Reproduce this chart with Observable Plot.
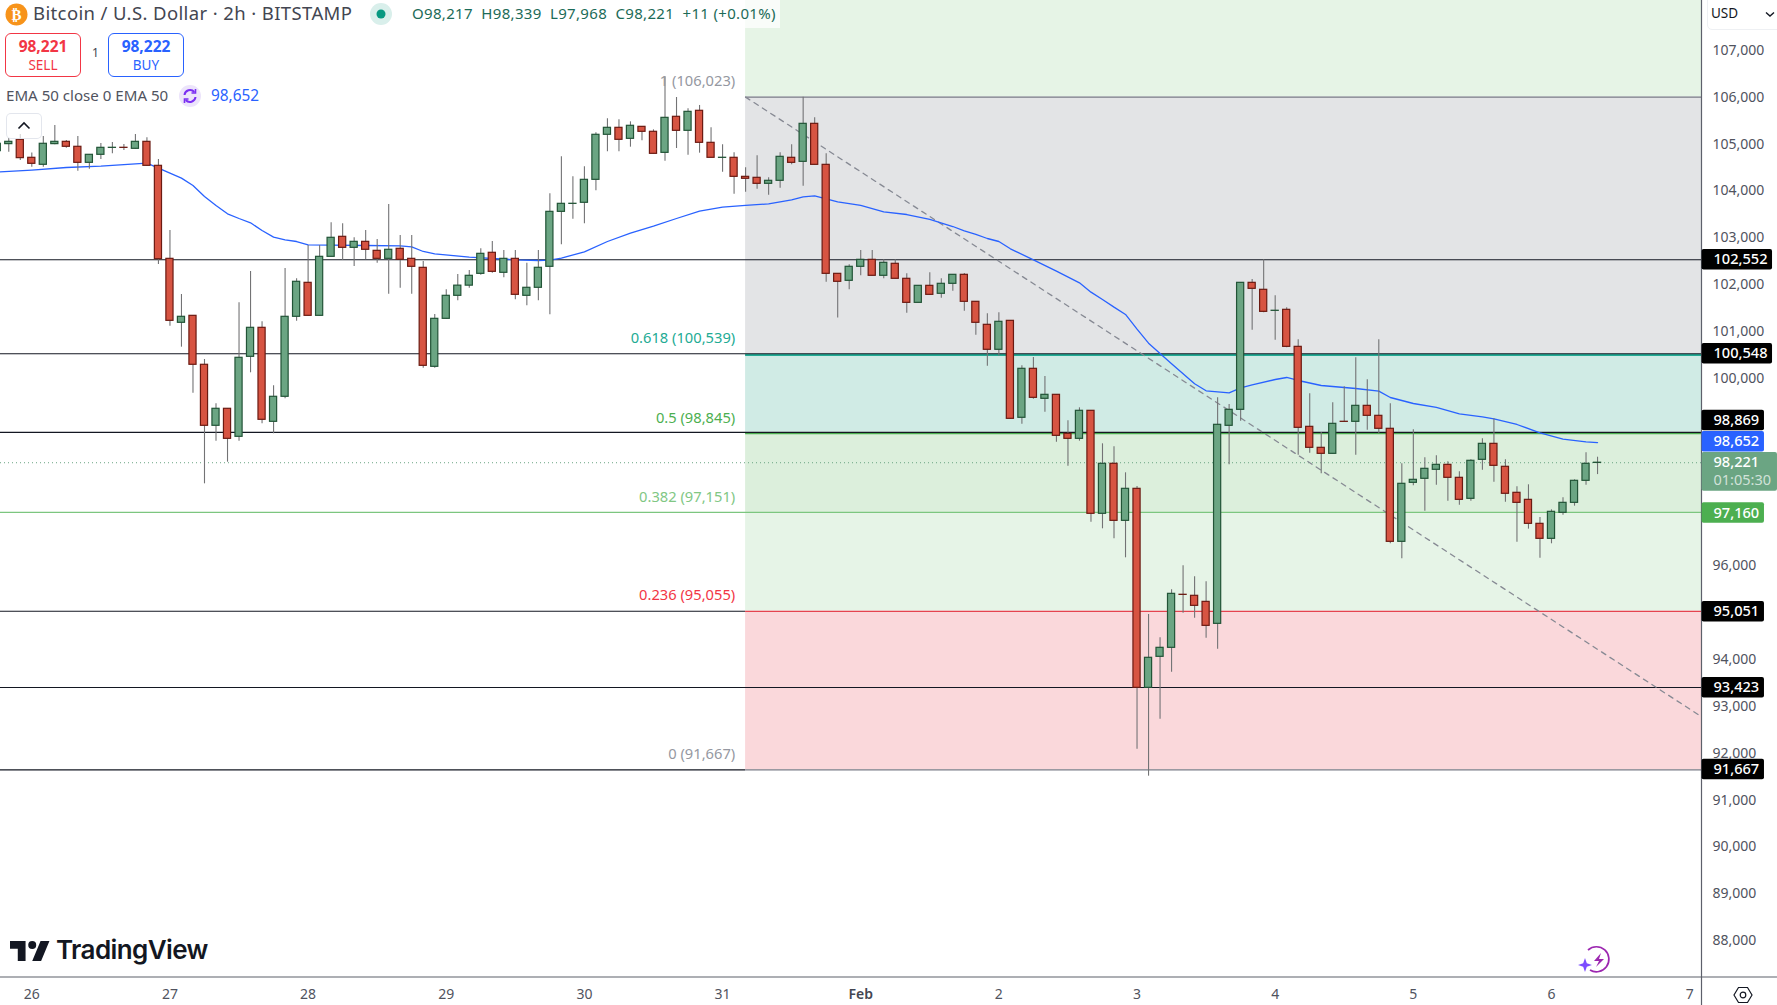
<!DOCTYPE html>
<html><head><meta charset="utf-8">
<script src="https://cdn.jsdelivr.net/npm/d3@7"></script>
<script src="https://cdn.jsdelivr.net/npm/@observablehq/plot@0.6"></script>
<style>
html,body{margin:0;padding:0;background:#fff;overflow:hidden}
#wrap{position:relative;width:1777px;height:1005px;font-family:"Noto Sans",sans-serif;color:#50535e}
#chart svg{display:block}
.o{position:absolute;white-space:nowrap;line-height:1}
</style></head><body>
<div id="wrap"><div id="chart"></div>
<div class="o" style="left:0;top:0;width:780px;height:28px;background:rgba(255,255,255,.75)"></div>
<svg class="o" style="left:5px;top:3px" width="23" height="23" viewBox="0 0 23 23"><circle cx="11.5" cy="11.5" r="11" fill="#f7931a"/><text x="11.5" y="17" text-anchor="middle" font-size="15" font-weight="700" fill="#fff" font-family="DejaVu Sans">₿</text></svg>
<div class="o" style="left:33px;top:4px;font-size:18.5px;letter-spacing:.38px;color:#434651">Bitcoin / U.S. Dollar · 2h · BITSTAMP</div>
<svg class="o" style="left:370px;top:3px" width="22" height="22"><circle cx="11" cy="11" r="11" fill="#d9efeb"/><circle cx="11" cy="11" r="4.5" fill="#089981"/></svg>
<div class="o" style="left:412px;top:6px;font-size:15px;letter-spacing:.32px;color:#1c6b58">O98,217&nbsp; H98,339&nbsp; L97,968&nbsp; C98,221&nbsp; +11 (+0.01%)</div>
<div class="o" style="left:5px;top:33px;width:74px;height:42px;border:1px solid #f23645;border-radius:6px;background:#fff;color:#f23645;text-align:center">
  <div style="font-size:15.5px;font-weight:700;margin-top:5px">98,221</div><div style="font-size:13.5px;margin-top:4px">SELL</div></div>
<div class="o" style="left:92px;top:47px;font-size:12px;color:#434651">1</div>
<div class="o" style="left:108px;top:33px;width:74px;height:42px;border:1px solid #2962ff;border-radius:6px;background:#fff;color:#2962ff;text-align:center">
  <div style="font-size:15.5px;font-weight:700;margin-top:5px">98,222</div><div style="font-size:13.5px;margin-top:4px">BUY</div></div>
<div class="o" style="left:6px;top:88px;font-size:15.1px;color:#50535e">EMA 50 close 0 EMA 50</div>
<svg class="o" style="left:179px;top:85px" width="22" height="22" viewBox="0 0 22 22"><circle cx="11" cy="11" r="11" fill="#ece4fb"/><path d="M5.5 10a5.6 5.6 0 0 1 9.8-3M16.500 12a5.600 5.600 0 0 1-9.800 3" fill="none" stroke="#7b2ff2" stroke-width="2"/><path d="M16.500 4v4h-4M5.500 18v-4h4" fill="none" stroke="#7b2ff2" stroke-width="1.600"/></svg>
<div class="o" style="left:211px;top:88px;font-size:15.4px;color:#2962ff">98,652</div>
<div class="o" style="left:6px;top:113px;width:34px;height:24px;border:1px solid rgba(224,227,235,.9);border-radius:5px;background:rgba(255,255,255,.7)">
<svg style="position:absolute;left:10px;top:7px" width="14" height="9"><path d="M1.500 7.500L7 2l5.500 5.500" fill="none" stroke="#131722" stroke-width="1.600"/></svg></div>
<svg class="o" style="left:10px;top:941px" width="40" height="20" viewBox="0 0 36 18"><path d="M14 18H7V7H0V0h14zM28 18h-8L27.500 0h8z" fill="#131722"/><circle cx="20" cy="3.600" r="3.600" fill="#131722"/></svg>
<div class="o" style="left:56px;top:937px;font-size:26px;font-weight:600;letter-spacing:-.6px;color:#131722;font-family:Inter,sans-serif">TradingView</div>
<svg class="o" style="left:1577px;top:944px" width="36" height="32" viewBox="0 0 36 32"><path d="M11 6A12.500 12.500 0 1 1 13 26" fill="none" stroke="#9c27b0" stroke-width="1.700"/><path d="M24 9l-7 8h5l-3 6 8-8h-5z" fill="#9c27b0"/><path d="M8 14l1.800 5.200L15 21l-5.200 1.800L8 28l-1.800-5.200L1 21l5.200-1.800z" fill="#7c4dff"/></svg>
<svg class="o" style="left:1733px;top:985px" width="20" height="20" viewBox="0 0 20 20"><path d="M5.500 2.500h9L19 10l-4.500 7.500h-9L1 10z" fill="none" stroke="#131722" stroke-width="1.200"/><circle cx="10" cy="10" r="2.800" fill="none" stroke="#131722" stroke-width="1.200"/></svg>
<div class="o" style="left:1707px;top:-1px;width:70px;height:29px;border:1px solid #eef0f3;border-radius:0 0 0 5px;background:#fff">
 <span style="position:absolute;left:3px;top:7px;font-size:13.5px;color:#131722">USD</span>
 <svg style="position:absolute;left:57px;top:11px" width="10" height="7"><path d="M1 1.500l4 3.500 4-3.500" fill="none" stroke="#131722" stroke-width="1.400"/></svg></div>
</div>
<script>
const firstIndex = -3;
const opens = [104870,105020,105112,104728,104579,105020,105069,104963,104621,104792,104940,104942,104920,105069,104557,102572,101207,101356,100311,99009,99372,98774,100481,101100,99094,99628,101335,102060,101356,102615,103042,102807,102935,102743,102572,102786,102572,102380,100268,101292,101783,102000,102252,102701,102274,102572,101783,101954,102402,103575,103745,103768,104258,105219,105368,105133,105389,105283,104834,105603,105304,105731,105048,104727,104728,104322,104301,104173,104237,104728,104642,105453,104578,102252,102103,102402,102551,102210,102466,102146,101633,101996,101826,102039,102231,101655,101164,100631,101249,99180,100225,99585,99670,98838,98731,99329,97131,98198,96981,97664,93417,94079,94271,95403,95381,95252,94783,99009,99350,102060,101911,101462,101484,100694,98987,98539,98411,99095,99094,99435,99222,98945,96533,97792,97878,98070,98176,97899,97451,98283,98624,98134,97579,97429,96917,96597,97152,97365,97835,98217];
const highs = [105060,105140,105226,104828,105183,105418,105098,105183,104800,105034,105055,105012,105226,105155,104692,103177,101811,101360,100424,99478,99375,101634,102302,101228,99862,102366,102146,102857,102857,103341,103319,103021,103177,102985,103732,103070,103070,102516,101385,101911,102238,102324,102786,102942,102750,102750,102480,102750,103960,104749,104322,104536,105261,105560,105539,105496,105395,105325,106460,106015,105773,105845,105368,105005,104834,104514,104770,104301,104834,105005,106023,105581,104813,102255,102445,102750,102750,102551,102551,102252,102000,102274,102146,102235,102259,101660,101399,101420,101255,100289,100467,100062,99675,99115,99393,99335,98625,98561,98006,97714,94982,94484,95509,96021,95786,95679,99606,99464,102065,102131,102551,101783,101527,100844,99691,98866,99499,99841,100460,99990,100844,99478,98198,98923,98326,98368,98240,98027,98283,98731,99158,98283,97707,97750,97052,97216,97472,97856,98432,98339];
const lows = [104850,104849,104671,104529,104529,105005,104934,104443,104486,104692,104813,104884,104910,104550,102452,101136,100687,99706,97771,98682,98233,98682,100140,99052,98838,99585,101242,101350,101350,102610,102537,102409,102551,102480,101818,101946,101818,100239,100239,101285,101676,101947,102224,102267,102167,101698,101570,101676,101378,102871,103419,103319,104024,104856,104856,104955,105091,104810,104657,104927,104785,104827,104728,104422,103952,103995,104059,103931,104080,104578,104123,104575,102075,101310,101911,102210,102205,102146,102140,101413,101630,101800,101733,101882,101456,100943,100282,100495,99150,99044,99578,99300,98660,98148,98681,96953,96811,96598,96192,92108,91532,92749,93752,95011,94904,94477,94242,98177,99108,101050,101420,100837,100673,98383,98425,97984,98405,99090,98383,98916,98838,96491,96170,97728,97188,97742,97401,97316,97401,98063,97806,97380,96526,96804,96185,96491,97102,97294,97742,97968];
const closes = [105027,105069,104721,104600,105027,105069,104963,104621,104792,104941,104942,104940,105069,104557,102565,101249,101335,100311,99009,99372,98731,100460,101100,99137,99628,101335,102082,101356,102615,103021,102807,102935,102765,102572,102765,102551,102402,100289,101292,101783,102000,102210,102679,102295,102572,101804,101954,102381,103575,103746,103747,104258,105219,105368,105112,105411,105283,104813,105581,105304,105709,105048,104728,104729,104322,104280,104173,104237,104749,104621,105453,104578,102252,102082,102402,102551,102210,102487,102146,101633,101996,101804,102039,102231,101655,101207,100631,101228,99158,100225,99606,99670,98795,98731,99329,97131,98198,96981,97664,93417,94058,94271,95423,95401,95167,94740,99030,99350,102060,101932,101441,101464,100694,98966,98539,98411,99051,99093,99435,99222,98945,96533,97771,97856,98091,98176,97899,97429,98262,98624,98155,97558,97365,96917,96597,97173,97365,97835,98198,98221];

const emaIndex = [-3,0,3,6,9,10,11,13,14,15,16,17,18,19,20,21,22,23,24,26,29,32,33,34,35,38,42,44,45,46,48,50,52,54,56,58,60,62,64,66,67,68,69,70,72,74,76,78,80,81,82,83,84,85,87,89,91,92,93,94,95,96,97,99,101,102,104,105,106,108,109,110,112,115,117,118,120,122,124,126,127,129,131,133,135,136];
const emaValues = [104425,104465,104521,104550,104600,104614,104507,104294,104137,103903,103711,103533,103433,103341,103177,103035,102978,102942,102871,102864,102857,102850,102829,102729,102679,102608,102551,102537,102544,102587,102722,102942,103120,103270,103433,103590,103675,103711,103746,103832,103896,103917,103853,103789,103711,103575,103518,103412,103262,103170,103092,103006,102942,102786,102551,102309,102060,101861,101705,101541,101385,101071,100773,100332,99905,99756,99713,99820,99883,99997,100040,99976,99869,99805,99748,99613,99485,99400,99265,99200,99158,99037,98859,98724,98667,98652];

const priceTicks = [107000,106000,105000,104000,103000,102000,101000,100000,96000,94000,93000,92000,91000,90000,89000,88000];
const dayIndex = [0,12,24,36,48,60,84,96,108,120,132,144];
const dayLabels = ["26","27","28","29","30","31","2","3","4","5","6","7"];
const febIndex = [72];
const febLabels = ["Feb"];

const fibPrices = [106023,100539,98845,97151,95055,91667];
const fibLabels = ["1 (106,023)","0.618 (100,539)","0.5 (98,845)","0.382 (97,151)","0.236 (95,055)","0 (91,667)"];
const fibColors = ["#9598a1","#22ab94","#4caf50","#81c784","#f23645","#9598a1"];
const bandTops = [108085,106023,100548,98869,97160,95051];
const bandBottoms = [106023,100548,98869,97160,95051,91667];
const bandColors = ["#e6f4e6","#e3e4e6","#d0ebe5","#dcefdc","#e6f4e7","#fad8db"];
const blackLevels = [102552,100548,98869,93423];
const underLevels = [95051,91667];
const levelStroke97 = [97160];

const tagPrices = [102552,100548,99122,98668,97148,95040,93418,91674];
const tagLabels = ["102,552","100,548","98,869","98,652","97,160","95,051","93,423","91,667"];
const tagColors = ["#000","#000","#000","#2962ff","#4caf50","#000","#000","#000"];
const tagRight = [151.2,151.2,150.5,150.5,150.5,150.5,150.5,150.5];

const trendIndex = [62,145];
const trendPrice = [106023,92806];

const lastPrice = 98221;
const PANE_RIGHT = 145.03, FULL_RIGHT = 151.63, LEFT = -2.7187, TOP = 108085, BOTTOM = 87246.5;
const candles = opens.map((o,k)=>({i:firstIndex+k,o,h:highs[k],l:lows[k],c:closes[k],up:closes[k]>=o}));
const ema = emaIndex.map((i,k)=>({i,v:emaValues[k]}));
const fibs = fibPrices.map((p,k)=>({p,t:fibLabels[k],c:fibColors[k]}));
const bands = bandTops.map((t,k)=>({t,b:bandBottoms[k],c:bandColors[k]}));
const tags = tagPrices.map((p,k)=>({p,t:tagLabels[k],c:tagColors[k],r:tagRight[k]}));
const trend = trendIndex.map((i,k)=>({i,p:trendPrice[k]}));
const HALF = 0.31, TAGH = 220;
const font = '"Noto Sans",sans-serif';

const plot = Plot.plot({
  width:1777,height:1005,marginLeft:0,marginTop:0,marginRight:76,marginBottom:28.5,
  x:{type:"linear",domain:[LEFT,PANE_RIGHT]},
  y:{type:"linear",domain:[BOTTOM,TOP]},
  style:{fontFamily:font,background:"transparent",overflow:"visible"},
  marks:[
    Plot.rect(bands,{x1:62,x2:PANE_RIGHT,y1:"b",y2:"t",fill:"c"}),
    Plot.ruleY(underLevels,{x1:LEFT,x2:62,stroke:"#131722",strokeWidth:1.1}),
    Plot.ruleY([106023,91667],{x1:62,x2:PANE_RIGHT,stroke:"#787b86",strokeWidth:1.2}),
    Plot.ruleY([95051],{x1:62,x2:PANE_RIGHT,stroke:"#e5434f",strokeWidth:1.2}),
    Plot.ruleY([100539],{x1:62,x2:PANE_RIGHT,stroke:"#22ab94",strokeWidth:2,dy:0.8}),
    Plot.ruleY([98845],{x1:62,x2:PANE_RIGHT,stroke:"#4caf50",strokeWidth:1.5}),
    Plot.ruleY(levelStroke97,{x1:LEFT,x2:PANE_RIGHT,stroke:"#7cc67f",strokeWidth:1.2}),
    Plot.ruleY(blackLevels,{x1:LEFT,x2:PANE_RIGHT,stroke:"#131722",strokeWidth:1.1}),
    Plot.ruleY([lastPrice],{x1:LEFT,x2:PANE_RIGHT,stroke:"#6ba583",strokeWidth:1,strokeDasharray:"1 3"}),
    Plot.line(trend,{x:"i",y:"p",stroke:"#868993",strokeWidth:1.3,strokeDasharray:"5 5"}),
    Plot.line(ema,{x:"i",y:"v",stroke:"#2962ff",strokeWidth:1.3,curve:"linear"}),
    Plot.ruleX(candles,{x:"i",y1:"l",y2:"h",stroke:"#737375",strokeWidth:1.1}),
    Plot.rect(candles,{x1:d=>d.i-HALF,x2:d=>d.i+HALF,y1:"o",y2:"c",fill:d=>d.up?"#6ba583":"#d75442",stroke:d=>d.up?"#225437":"#6b1a12",strokeWidth:1.2}),
    Plot.text(fibs,{x:61.1,y:"p",text:"t",fill:"c",textAnchor:"end",dy:-15.5,fontSize:14.7}),
    Plot.axisY({anchor:"right",ticks:priceTicks,tickFormat:d3.format(","),tickSize:0,tickPadding:11,label:null,fontSize:14,fill:"#50535e",dy:-1}),
    Plot.axisX({anchor:"bottom",ticks:dayIndex,tickFormat:d=>dayLabels[dayIndex.indexOf(d)],tickSize:0,tickPadding:12,label:null,fontSize:14,fill:"#50535e"}),
    Plot.axisX({anchor:"bottom",ticks:febIndex,tickFormat:d=>febLabels[febIndex.indexOf(d)],tickSize:0,tickPadding:12,label:null,fontSize:14,fontWeight:600,fill:"#434651"}),
    Plot.ruleX([PANE_RIGHT],{y1:BOTTOM-1300,y2:TOP,stroke:"#5d606b",strokeWidth:1.2}),
    Plot.ruleY([BOTTOM],{x1:LEFT,x2:FULL_RIGHT,stroke:"#5d606b",strokeWidth:1.2}),
    Plot.rect(tags,{x1:PANE_RIGHT+0.05,x2:"r",y1:d=>d.p-TAGH,y2:d=>d.p+TAGH,fill:"c",r:2}),
    Plot.rect([0],{x1:PANE_RIGHT+0.05,x2:FULL_RIGHT,y1:97613,y2:98439,fill:"#6ba583",r:2}),
    Plot.text(tags,{x:146.07,y:"p",text:"t",fill:"#fff",textAnchor:"start",fontSize:14.6,fontWeight:500}),
    Plot.text(["98,221"],{x:146.07,y:98232,text:d=>d,fill:"#fff",textAnchor:"start",fontSize:14.6,fontWeight:500}),
    Plot.text(["01:05:30"],{x:146.07,y:97848,text:d=>d,fill:"#fff",fillOpacity:.7,textAnchor:"start",fontSize:14.5})
  ]
});
document.getElementById("chart").append(plot);
</script>
</body></html>
